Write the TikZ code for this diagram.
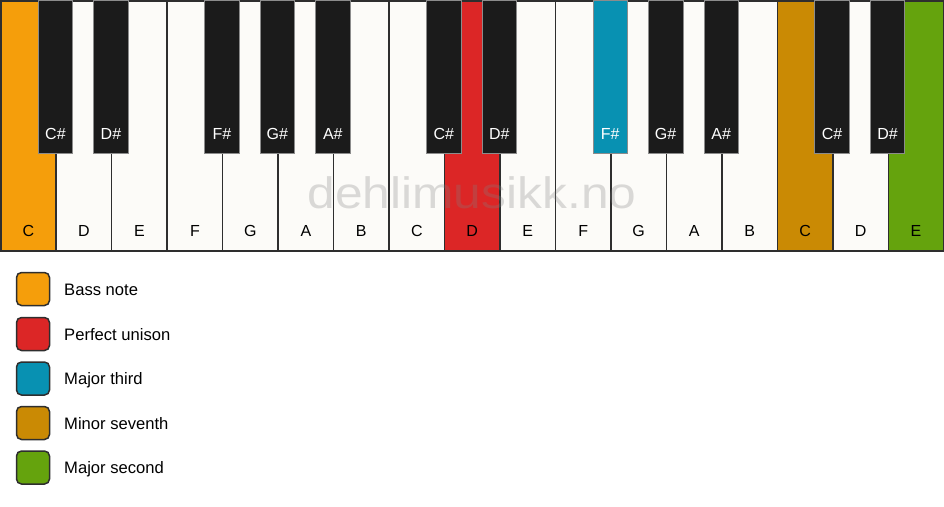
\documentclass[tikz,border=0pt]{standalone}
\usepackage{fontspec}
\setmainfont{Liberation Sans}
\usetikzlibrary{calc}
\definecolor{keywhite}{HTML}{FCFBF8}
\definecolor{keyblack}{HTML}{1B1B1B}
\definecolor{keyedge}{HTML}{2E2E2E}
\definecolor{cbass}{HTML}{F59E0B}
\definecolor{cunison}{HTML}{DC2626}
\definecolor{cthird}{HTML}{0891B2}
\definecolor{cseventh}{HTML}{CA8A04}
\definecolor{csecond}{HTML}{65A30D}
\tikzset{
  whitekey/.style={rectangle, draw=keyedge, line width=1.5pt, anchor=north west,
    minimum width=55.47pt, minimum height=250pt, inner sep=0pt},
  blackkey/.style={rectangle, draw=black!45, line width=0.7pt, anchor=north,
    minimum width=34.5pt, minimum height=153pt, inner sep=0pt},
  wlabel/.style={font=\fontsize{16}{16}\selectfont, text=black, inner sep=0pt},
  blabel/.style={font=\fontsize{16}{16}\selectfont, text=white, inner sep=0pt},
  legbox/.style={rectangle, rounded corners=5pt, draw=keyedge, line width=1.5pt,
    minimum width=33pt, minimum height=33pt, inner sep=0pt},
  legtext/.style={font=\fontsize{16.6}{16.6}\selectfont, anchor=base west, inner sep=0pt},
  watermark/.style={text=gray, opacity=0.28, anchor=base, inner sep=0pt}
}
\begin{document}
\begin{tikzpicture}[x=1pt,y=-1pt]
\useasboundingbox (0,0) rectangle (944,506);
\fill[white] (0,0) rectangle (944,506);
% white keys
\foreach \i/\n/\c in {0/C/cbass,1/D/keywhite,2/E/keywhite,3/F/keywhite,4/G/keywhite,
  5/A/keywhite,6/B/keywhite,7/C/keywhite,8/D/cunison,9/E/keywhite,10/F/keywhite,
  11/G/keywhite,12/A/keywhite,13/B/keywhite,14/C/cseventh,15/D/keywhite,16/E/csecond}{
  \node[whitekey, fill=\c] (w\i) at (\i*55.47,0) {};
  \node[wlabel] (lw\i) at ($(w\i.south)+(0,-21)$) {\n};
}
% watermark
\node[watermark] (wm) at (472,208) {\scalebox{1.13}[1]{\fontsize{44}{44}\selectfont dehlimusikk.no}};
% black keys
\foreach \j/\n/\c in {1/C\#/keyblack,2/D\#/keyblack,4/F\#/keyblack,5/G\#/keyblack,6/A\#/keyblack,
  8/C\#/keyblack,9/D\#/keyblack,11/F\#/cthird,12/G\#/keyblack,13/A\#/keyblack,
  15/C\#/keyblack,16/D\#/keyblack}{
  \node[blackkey, fill=\c] (b\j) at (\j*55.47,0) {};
  \node[blabel] (lb\j) at ($(b\j.south)+(0,-20)$) {\n};
}
% legend
\foreach \k/\c/\t/\y in {1/cbass/Bass note/289, 2/cunison/Perfect unison/334,
  3/cthird/Major third/378.5, 4/cseventh/Minor seventh/423, 5/csecond/Major second/467.5}{
  \node[legbox, fill=\c] (g\k) at (33,\y) {};
  \node[legtext] (t\k) at (64,\y+6) {\t};
}
\end{tikzpicture}
\end{document}
